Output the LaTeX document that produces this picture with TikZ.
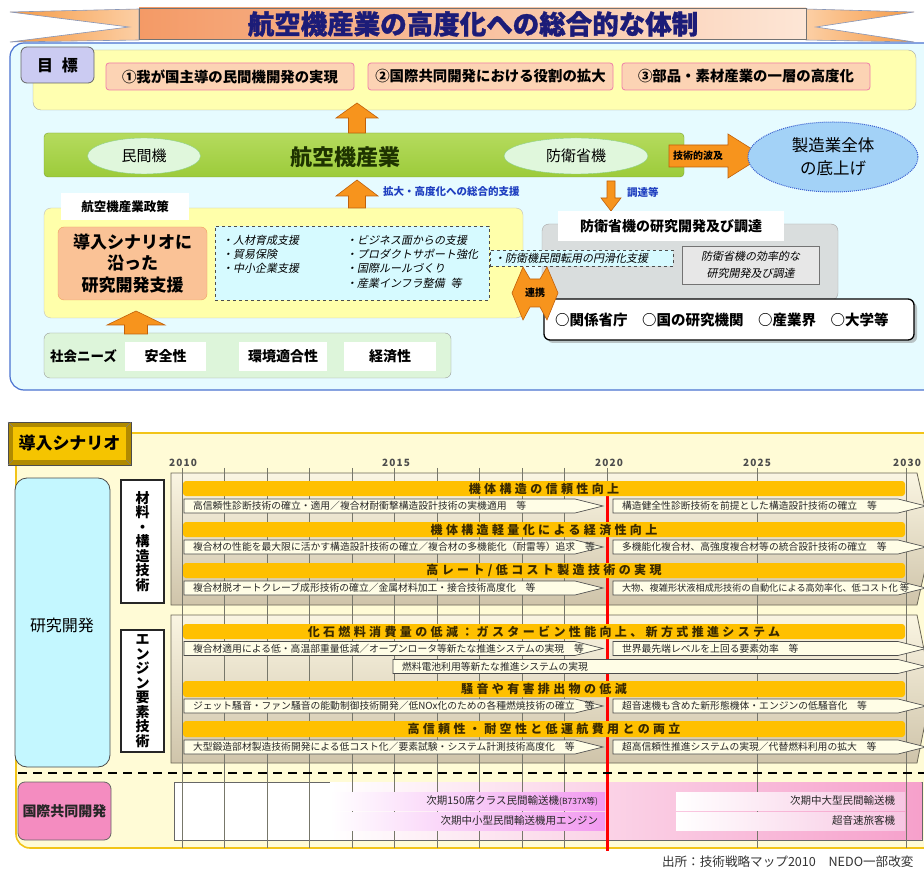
\documentclass[tikz,border=0pt]{standalone}
\usepackage{fontspec}
\setmainfont{Noto Sans CJK JP}
\newfontfamily\jpit{Noto Sans CJK JP}[FakeSlant=0.2]
\newfontfamily\jpsp{Noto Sans CJK JP}[LetterSpace=28]
\newfontfamily\yrfont{Noto Sans CJK JP}[LetterSpace=12]
\newfontfamily\jpheavy{Noto Sans CJK JP}[BoldFeatures={FakeBold=1.2}]
\usetikzlibrary{shadows,shapes.geometric}
\definecolor{panelFill}{HTML}{E6FBFF}
\definecolor{panelEdge}{HTML}{4A72D0}
\definecolor{goalFill}{HTML}{FFFFB0}
\definecolor{tabLav}{HTML}{CBCBF2}
\definecolor{goalPeach}{HTML}{FCD3B4}
\definecolor{pinkEdge}{HTML}{EE7FA8}
\definecolor{tailL}{HTML}{F59A45}
\definecolor{tailR}{HTML}{FCCFA5}
\definecolor{titL}{HTML}{F49A66}
\definecolor{titR}{HTML}{FDE6D6}
\definecolor{titleBlue}{HTML}{1C1C78}
\definecolor{bannerEdge}{HTML}{8796B8}
\definecolor{barGreen}{HTML}{9CCB3A}
\definecolor{barGreenT}{HTML}{B5DB5E}
\definecolor{ellFill}{HTML}{E0F7DC}
\definecolor{ellEdge}{HTML}{8ED088}
\definecolor{darkGreen}{HTML}{1E3300}
\definecolor{arrOrange}{HTML}{F7941D}
\definecolor{arrEdge}{HTML}{C0600A}
\definecolor{lightBlue}{HTML}{A3D2F7}
\definecolor{blueDash}{HTML}{3A5FD0}
\definecolor{labBlue}{HTML}{1F3FC0}
\definecolor{polFill}{HTML}{FFFFAA}
\definecolor{oraFill}{HTML}{FAC296}
\definecolor{oraEdge}{HTML}{F0A060}
\definecolor{cyanFill}{HTML}{D6FAFF}
\definecolor{grayFill}{HTML}{D9DDDD}
\definecolor{grayIn}{HTML}{E7E7E7}
\definecolor{needFill}{HTML}{DDF5DA}
\definecolor{scenFill}{HTML}{FFFBD6}
\definecolor{scenEdge}{HTML}{F2C418}
\definecolor{tabGold}{HTML}{F5C400}
\definecolor{tabGoldD}{HTML}{B08A00}
\definecolor{resFill}{HTML}{C4F7FF}
\definecolor{frTop}{HTML}{FAF5E2}
\definecolor{frBot}{HTML}{CFC4AA}
\definecolor{frameEdge}{HTML}{6B6656}
\definecolor{gridC}{HTML}{77776A}
\definecolor{barOrange}{HTML}{FFC000}
\definecolor{barText}{HTML}{3A2A00}
\definecolor{arrFill}{HTML}{FFFDE6}
\definecolor{intPink}{HTML}{F48CC0}
\definecolor{bgPink}{HTML}{F6A0CB}
\definecolor{barViolet}{HTML}{F29AF0}
\definecolor{barPaleP}{HTML}{F7C6E2}
\newcommand\bx[7]{\node[#2,minimum width={(#5-#3)*1pt},minimum height={(#6-#4)*1pt}] (#1) at ({(#3+#5)/2},{(#4+#6)/2}) {#7};}
\newcommand\arr[6]{\draw[arrbox] ({#2},{#4-7}) -- ({#3-28},{#4-7}) -- ({#3},{#4}) -- ({#3-28},{#4+7}) -- ({#2},{#4+7}) -- cycle;
  \node[arrtxt,anchor=west,#6] (#1) at ({#2+9},{#4}) {#5};}
\begin{document}
\begin{tikzpicture}[x=1pt,y=-1pt,
  every node/.style={inner sep=0pt,outer sep=0pt},
  fb/.style 2 args={font=\fontsize{#1}{#2}\selectfont\bfseries},
  fr/.style 2 args={font=\fontsize{#1}{#2}\selectfont},
  fi/.style 2 args={font=\fontsize{#1}{#2}\selectfont\jpit},
  goal/.style={draw=pinkEdge,fill=goalPeach,rounded corners=3pt,line width=0.8pt,fb={14.4}{14.4}},
  tabw/.style={draw=black!75,double=white,double distance=1.2pt,line width=0.6pt,fill=white},
  orarrow/.style={draw=arrEdge,fill=arrOrange,line width=0.6pt},
  bar/.style={fill=barOrange,rounded corners=3pt,font=\fontsize{12}{12}\selectfont\jpsp\bfseries,text=barText},
  arrbox/.style={draw=black!70,fill=arrFill,line width=0.7pt},
  arrtxt/.style={font=\fontsize{9.8}{9.8}\selectfont,text=black!85},
  grid/.style={draw=gridC,line width=0.7pt},
  yr/.style={font=\fontsize{10}{10}\selectfont\yrfont\bfseries,text=black!70},
  vtext/.style={draw=black!85,fill=white,line width=1.1pt,align=center,fb={14}{14.5}},
  fframe/.style={draw=frameEdge,line width=0.8pt,top color=frTop,bottom color=frBot},
  intbar/.style={fr={10.5}{10.5},text=black!85}
]
\useasboundingbox[fill=white] (0,0) rectangle (924,874);

% ===== upper panel =====
\bx{panel}{draw=panelEdge,line width=1.2pt,fill=panelFill,rounded corners=14pt}{10}{43}{950}{390}{}

% banner
\path[draw=bannerEdge,line width=0.6pt,left color=tailL,right color=tailR] (139,9) -- (10,12) -- (129,27) -- (10,42) -- (139,40) -- cycle;
\path[draw=bannerEdge,line width=0.6pt,left color=tailR,right color=tailL] (806,9) -- (914,12) -- (816,27) -- (914,42) -- (806,40) -- cycle;
\bx{titlebox}{draw=black!55,line width=0.6pt,left color=titL,right color=titR}{139}{8}{806}{39}{}
\node[font=\fontsize{26.5}{26.5}\selectfont\jpheavy\bfseries,text=titleBlue] (title) at (473,24) {航空機産業の高度化への総合的な体制};

% goals
\bx{goals}{draw=black!35,fill=goalFill,rounded corners=8pt}{33}{50}{916}{110}{}
\bx{goaltab}{draw=black!60,fill=tabLav,rounded corners=6pt,line width=0.8pt,fb={16}{16}}{21}{47}{94}{83}{目\hspace{9pt}標}
\bx{g1}{goal}{106}{63}{354}{90}{①我が国主導の民間機開発の実現}
\bx{g2}{goal}{368}{63}{613}{90}{②国際共同開発における役割の拡大}
\bx{g3}{goal}{622}{63}{870}{90}{③部品・素材産業の一層の高度化}

% green bar
\bx{bar}{top color=barGreenT,bottom color=barGreen,draw=barGreen!80!black,rounded corners=4pt}{44}{133}{684}{177}{}
\node[ellipse,draw=ellEdge,fill=ellFill,minimum width=113pt,minimum height=36pt,fr={15}{15}] (minkan) at (144,156) {民間機};
\node[ellipse,draw=ellEdge,fill=ellFill,minimum width=144pt,minimum height=36pt,fr={15}{15}] (boei) at (576,156) {防衛省機};
\node[fb={22}{22},text=darkGreen] (kokuki) at (345,157) {航空機産業};

% arrow bar -> goals
\path[orarrow] (357,103) -- (378,118) -- (365.5,118) -- (365.5,133) -- (348.5,133) -- (348.5,118) -- (336,118) -- cycle;
% 技術的波及 arrow
\path[orarrow] (669,145) -- (728,145) -- (728,134) -- (763,156) -- (728,178) -- (728,167) -- (669,167) -- cycle;
\node[fb={10}{10}] (hakyu) at (698,156) {技術的波及};
\node[ellipse,draw=blueDash,densely dotted,line width=1pt,fill=lightBlue,minimum width=170pt,minimum height=70pt,align=center,fr={16.5}{23}] (sogai) at (833,157) {製造業全体\\の底上げ};

% policy box
\bx{policy}{draw=black!25,fill=polFill,rounded corners=7pt}{44}{208}{523}{318}{}
% arrow policy -> bar
\path[orarrow] (357,180) -- (378,196) -- (365.5,196) -- (365.5,208) -- (348.5,208) -- (348.5,196) -- (336,196) -- cycle;
\node[fb={10.5}{10.5},text=labBlue,anchor=west] (shien) at (383,192) {拡大・高度化への総合的支援};
% 調達等 arrow
\path[orarrow] (607,181) -- (615,181) -- (615,198) -- (621,198) -- (611,211) -- (601,198) -- (607,198) -- cycle;
\node[fb={10.5}{10.5},text=labBlue,anchor=west] (chotatsu) at (627,192) {調達等};

\bx{poltab}{tabw,fb={12.5}{12.5}}{62}{194}{188}{219}{航空機産業政策}
\bx{scen}{draw=oraEdge,fill=oraFill,rounded corners=6pt,align=center,fb={17}{21.5}}{58}{227}{207}{300}{導入シナリオに\\沿った\\研究開発支援}
\bx{items}{draw=black!70,dashed,fill=cyanFill,line width=0.8pt}{215}{226}{489}{300}{}
\node[fi={11}{11},anchor=west] (i1) at (222,240) {・人材育成支援};
\node[fi={11}{11},anchor=west] (i2) at (222,254) {・貿易保険};
\node[fi={11}{11},anchor=west] (i3) at (222,268) {・中小企業支援};
\node[fi={11}{11},anchor=west] (i4) at (346,240) {・ビジネス面からの支援};
\node[fi={11}{11},anchor=west] (i5) at (346,254) {・プロダクトサポート強化};
\node[fi={11}{11},anchor=west] (i6) at (346,268) {・国際ルールづくり};
\node[fi={11}{11},anchor=west] (i7) at (346,283) {・産業インフラ整備\hspace{6pt}等};

% defense box
\bx{defense}{draw=black!35,fill=grayFill,rounded corners=7pt}{542}{224}{838}{300}{}
\bx{deftab}{tabw,fb={14}{14}}{559}{212}{783}{240}{防衛省機の研究開発及び調達}
\bx{defin}{draw=black!55,fill=grayIn,align=center,fi={11}{17}}{682}{246}{819}{284}{防衛省機の効率的な\\研究開発及び調達}
\bx{tenyo}{draw=black!70,dashed,fill=cyanFill,line width=0.8pt}{490}{250}{673}{266}{}
\node[fi={11}{11},anchor=west] (tenyotxt) at (494,258) {・防衛機民間転用の円滑化支援};

% institutions box
\bx{inst}{draw=black,fill=white,line width=1.3pt,rounded corners=6pt,drop shadow={shadow xshift=3pt,shadow yshift=-3pt,fill=black!45}}{544}{299}{914}{340}{}
\node[fb={14.5}{14.5},anchor=west] (insttxt) at (555,320) {○関係省庁　○国の研究機関　○産業界　○大学等};

% 連携 double arrow
\path[orarrow] (523,267) -- (530,279) -- (540,279) -- (547,267) -- (558,293) -- (547,320) -- (540,307) -- (530,307) -- (523,320) -- (512,293) -- cycle;
\node[fb={10}{10}] (renkei) at (535,293) {連携};

% needs
\bx{needs}{draw=black!40,fill=needFill,rounded corners=6pt}{44}{333}{451}{378}{}
\path[orarrow] (136,311) -- (165,325) -- (147.5,325) -- (147.5,334) -- (124.5,334) -- (124.5,325) -- (107,325) -- cycle;
\node[fb={13.5}{13.5},anchor=west] (needtxt) at (50,356) {社会ニーズ};
\bx{n1}{fill=white,fb={14}{14}}{125}{342}{206}{371}{安全性}
\bx{n2}{fill=white,fb={14}{14}}{239}{342}{327}{371}{環境適合性}
\bx{n3}{fill=white,fb={14}{14}}{344}{342}{436}{371}{経済性}

% ===== scenario panel =====
\bx{scenpanel}{draw=scenEdge,line width=1.6pt,fill=scenFill,rounded corners=14pt}{16}{433}{950}{848}{}
\bx{scentabO}{draw=black!70,fill=tabGoldD,line width=0.6pt}{8}{422}{131}{465}{}
\bx{scentab}{fill=tabGold,fb={17}{17}}{13}{427}{126}{460}{導入シナリオ}
\draw[black!50,line width=0.4pt] (scentabO.north west) -- (scentab.north west) (scentabO.north east) -- (scentab.north east) (scentabO.south west) -- (scentab.south west) (scentabO.south east) -- (scentab.south east);

\bx{resbox}{draw=black!70,fill=resFill,rounded corners=12pt,line width=0.8pt,fr={16}{16}}{15}{478}{110}{767}{}
\node[fr={16}{16}] (restxt) at (62,625) {研究開発};
\bx{matv}{vtext}{121}{480}{164}{603}{材\\料\\・\\構\\造\\技\\術}
\bx{engv}{vtext}{121}{630}{164}{752}{エ\\ン\\ジ\\ン\\要\\素\\技\\術}

% years
\node[yr] (y2010) at (183,463) {2010};
\node[yr] (y2015) at (396,463) {2015};
\node[yr] (y2020) at (609,463) {2020};
\node[yr] (y2025) at (757,463) {2025};
\node[yr] (y2030) at (907,463) {2030};

% frames
\path[fframe] (171,473) -- (917,473) -- (932,539) -- (917,605) -- (171,605) -- cycle;
\path[fframe] (171,615) -- (917,615) -- (932,689) -- (917,763) -- (171,763) -- cycle;
\bx{intframe}{draw=black!60,line width=0.8pt,fill=white}{174}{782}{922}{840}{}
\shade[left color=white,right color=bgPink] (330,782.5) rectangle (921.5,839.5);

% grid
\foreach \k in {0,...,10} {\draw[grid] ({182+42.5*\k},468) -- ({182+42.5*\k},848);}
\draw[grid] (757,468) -- (757,848);
\draw[grid] (906,468) -- (906,848);

% red 2020 line (behind the bars)
\draw[red,line width=3pt] (607,481) -- (607,851);

% material bars
\bx{mb1}{bar}{183}{481}{905}{496}{機体構造の信頼性向上}
\bx{mb2}{bar}{183}{522}{905}{537}{機体構造軽量化による経済性向上}
\bx{mb3}{bar}{183}{563}{905}{578}{高レート/低コスト製造技術の実現}
\arr{ma1}{184}{603}{506}{高信頼性診断技術の確立・適用／複合材耐衝撃構造設計技術の実機適用　等}{}
\arr{mc1}{613}{926}{506}{構造健全性診断技術を前提とした構造設計技術の確立　等}{}
\arr{ma2}{184}{603}{547}{複合材の性能を最大限に活かす構造設計技術の確立／複合材の多機能化（耐雷等）追求　等}{}
\arr{mc2}{613}{926}{547}{多機能化複合材、高強度複合材等の統合設計技術の確立　等}{}
\arr{ma3}{184}{603}{588}{複合材脱オートクレーブ成形技術の確立／金属材料加工・接合技術高度化　等}{}
\arr{mc3}{613}{926}{588}{大物、複雑形状液相成形技術の自動化による高効率化、低コスト化 等}{font=\fontsize{9.2}{9.2}\selectfont}

% engine bars
\bx{eb1}{bar}{183}{624}{905}{639}{化石燃料消費量の低減：ガスタービン性能向上、新方式推進システム}
\bx{eb2}{bar}{183}{681}{905}{697}{騒音や有害排出物の低減}
\bx{eb3}{bar}{183}{721}{905}{737}{高信頼性・耐空性と低運航費用との両立}
\arr{ea1}{184}{603}{648.5}{複合材適用による低・高温部重量低減／オープンロータ等新たな推進システムの実現　等}{}
\arr{ec1}{613}{926}{648.5}{世界最先端レベルを上回る要素効率　等}{}
\arr{ed1}{393}{926}{666.5}{燃料電池利用等新たな推進システムの実現}{}
\arr{ea2}{184}{603}{706}{ジェット騒音・ファン騒音の能動制御技術開発／低NOx化のための各種燃焼技術の確立　等}{}
\arr{ec2}{613}{926}{706}{超音速機も含めた新形態機体・エンジンの低騒音化　等}{}
\arr{ea3}{184}{603}{747}{大型鍛造部材製造技術開発による低コスト化／要素試験・システム計測技術高度化　等}{}
\arr{ec3}{613}{926}{747}{超高信頼性推進システムの実現／代替燃料利用の拡大　等}{}

% international
\bx{intbox}{draw=black!60,fill=intPink,rounded corners=7pt,line width=0.8pt,fb={14}{14},text=black!85}{18}{782}{111}{840}{国際共同開発}
\shade[left color=white,right color=barViolet] (330,792) rectangle (605,810);
\shade[left color=white,right color=barViolet] (330,812) rectangle (605,830);
\shade[left color=white,right color=barPaleP] (676,792) rectangle (905,810);
\shade[left color=white,right color=barPaleP] (676,812) rectangle (905,830);
\node[intbar,anchor=east] (ib1) at (598,801) {次期150席クラス民間輸送機{\fontsize{8.5}{8.5}\selectfont(B737X等)}};
\node[intbar,anchor=east] (ib2) at (598,821) {次期中小型民間輸送機用エンジン};
\node[intbar,anchor=east] (ib3) at (895,801) {次期中大型民間輸送機};
\node[intbar,anchor=east] (ib4) at (895,821) {超音速旅客機};

% dashed separator
\draw[black,line width=1.8pt,dash pattern=on 9pt off 6pt] (18,773) -- (924,773);

% source
\node[fr={12.6}{12.6},anchor=west,text=black!80] (source) at (662,862) {出所：技術戦略マップ2010　NEDO一部改変};
\end{tikzpicture}
\end{document}
